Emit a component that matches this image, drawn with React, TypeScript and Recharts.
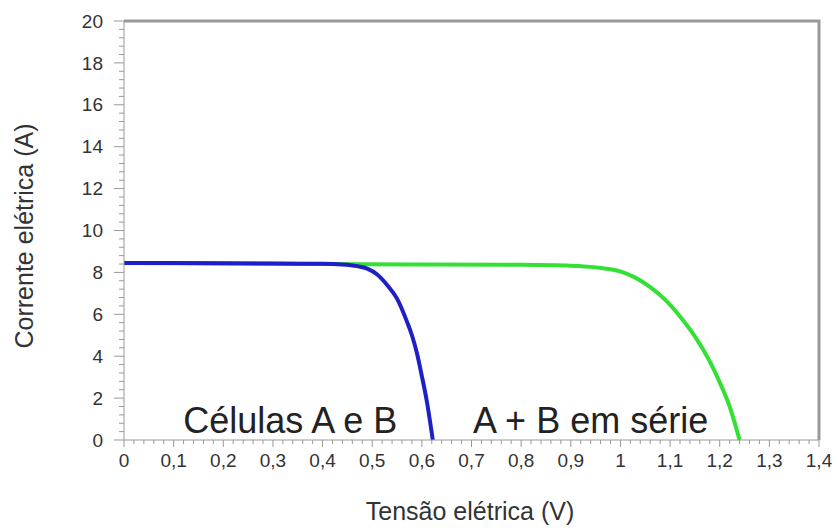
import React from "react";
import { LineChart, Line, XAxis, YAxis, ReferenceDot } from "recharts";

// Axis ticks (majors) and the number of minor steps between them
const voltageTicks = [0, 0.1, 0.2, 0.3, 0.4, 0.5, 0.6, 0.7, 0.8, 0.9, 1, 1.1, 1.2, 1.3, 1.4];
const currentTicks = [0, 2, 4, 6, 8, 10, 12, 14, 16, 18, 20];
const voltageMinorSteps = 5;
const currentMinorSteps = 5;
const voltageDomain = [0, 1.4];
const currentDomain = [0, 20];

// I-V curve of a single cell (A or B)
const cellVoltage = [0, 0.1, 0.2, 0.3, 0.4, 0.44, 0.47, 0.49, 0.51, 0.53, 0.55, 0.57, 0.58, 0.59, 0.6, 0.61, 0.622];
const cellCurrent = [8.45, 8.45, 8.44, 8.42, 8.41, 8.38, 8.3, 8.18, 7.9, 7.4, 6.75, 5.65, 5.0, 4.15, 3.05, 1.85, 0];

// I-V curve of A + B in series
const seriesVoltage = [0, 0.2, 0.4, 0.6, 0.8, 0.9, 0.95, 1.0, 1.03, 1.06, 1.09, 1.12, 1.15, 1.18, 1.2, 1.22, 1.24];
const seriesCurrent = [8.45, 8.43, 8.4, 8.38, 8.36, 8.32, 8.24, 8.05, 7.75, 7.3, 6.7, 5.9, 4.95, 3.75, 2.75, 1.6, 0];

const FONT = "'Liberation Sans', Arial, sans-serif";
const TEXT = "#333";
const AXIS = "#999";

const cellData = cellVoltage.map((v, k) => ({ v, i: cellCurrent[k] }));
const seriesData = seriesVoltage.map((v, k) => ({ v, i: seriesCurrent[k] }));

// top and right edges of the plot box, traced along the axis limits
const frameData = [
  { v: voltageDomain[0], i: currentDomain[1] },
  { v: voltageDomain[1], i: currentDomain[1] },
  { v: voltageDomain[1], i: currentDomain[0] },
];

const withMinor = (majors: number[], steps: number) =>
  majors.flatMap((m, k) =>
    k === majors.length - 1
      ? [m]
      : Array.from({ length: steps }, (_, j) => m + ((majors[k + 1] - m) * j) / steps)
  );

const isMajor = (majors: number[], value: number) => majors.some((m) => Math.abs(m - value) < 1e-6);

const formatVolt = (value: number) => String(Number(value.toFixed(1))).replace(".", ",");

const XTick = (props: any) => {
  const { x, y, payload } = props;
  const major = isMajor(voltageTicks, payload.value);
  return (
    <g>
      <line x1={x} x2={x} y1={y} y2={y + (major ? 7 : 4)} stroke={AXIS} strokeWidth={1} />
      {major && (
        <text x={x} y={y + 27} textAnchor="middle" fontSize={19} fill={TEXT} fontFamily={FONT}>
          {formatVolt(payload.value)}
        </text>
      )}
    </g>
  );
};

const YTick = (props: any) => {
  const { x, y, payload } = props;
  const major = isMajor(currentTicks, payload.value);
  return (
    <g>
      <line x1={x - (major ? 10 : 5)} x2={x} y1={y} y2={y} stroke={AXIS} strokeWidth={1} />
      {major && (
        <text x={x - 21} y={y} dy="0.35em" textAnchor="end" fontSize={19} fill={TEXT} fontFamily={FONT}>
          {Math.round(payload.value)}
        </text>
      )}
    </g>
  );
};

const annotation = (text: string) => (props: any) => {
  const { viewBox } = props;
  return (
    <text x={viewBox.x} y={viewBox.y} textAnchor="middle" fontSize={36} fill="#222" fontFamily={FONT}>
      {text}
    </text>
  );
};

const App: React.FC = () => {
  return (
    <div style={{ position: "absolute", left: 0, top: 0, background: "#fff" }}>
      <LineChart width={838} height={528} margin={{ top: 21, right: 19, left: 0, bottom: 0 }}>
        <XAxis
          type="number"
          dataKey="v"
          domain={voltageDomain}
          ticks={withMinor(voltageTicks, voltageMinorSteps)}
          interval={0}
          tickSize={0}
          tickMargin={0}
          tickLine={false}
          tick={<XTick />}
          axisLine={{ stroke: AXIS }}
          height={88}
          label={{
            content: () => (
              <text x={470} y={520} textAnchor="middle" fontSize={25} fill={TEXT} fontFamily={FONT}>
                Tensão elétrica (V)
              </text>
            ),
          }}
        />
        <YAxis
          type="number"
          domain={currentDomain}
          ticks={withMinor(currentTicks, currentMinorSteps)}
          interval={0}
          tickSize={0}
          tickMargin={0}
          tickLine={false}
          tick={<YTick />}
          axisLine={{ stroke: AXIS }}
          width={124}
          label={{
            content: () => (
              <text
                x={33}
                y={236}
                transform="rotate(-90, 33, 236)"
                textAnchor="middle"
                fontSize={25}
                fill={TEXT}
                fontFamily={FONT}
              >
                Corrente elétrica (A)
              </text>
            ),
          }}
        />
        <Line
          data={frameData}
          dataKey="i"
          type="linear"
          stroke="#999"
          strokeWidth={3}
          dot={false}
          activeDot={false}
          legendType="none"
          isAnimationActive={false}
        />
        <Line
          data={seriesData}
          dataKey="i"
          type="monotone"
          stroke="#33e033"
          strokeWidth={4}
          dot={false}
          isAnimationActive={false}
        />
        <Line
          data={cellData}
          dataKey="i"
          type="monotone"
          stroke="#1f1fc8"
          strokeWidth={4}
          dot={false}
          isAnimationActive={false}
        />
        <ReferenceDot x={0.335} y={0.33} r={0} stroke="none" label={{ content: annotation("Células A e B") }} />
        <ReferenceDot x={0.94} y={0.33} r={0} stroke="none" label={{ content: annotation("A + B em série") }} />
      </LineChart>
    </div>
  );
};

export default App;
